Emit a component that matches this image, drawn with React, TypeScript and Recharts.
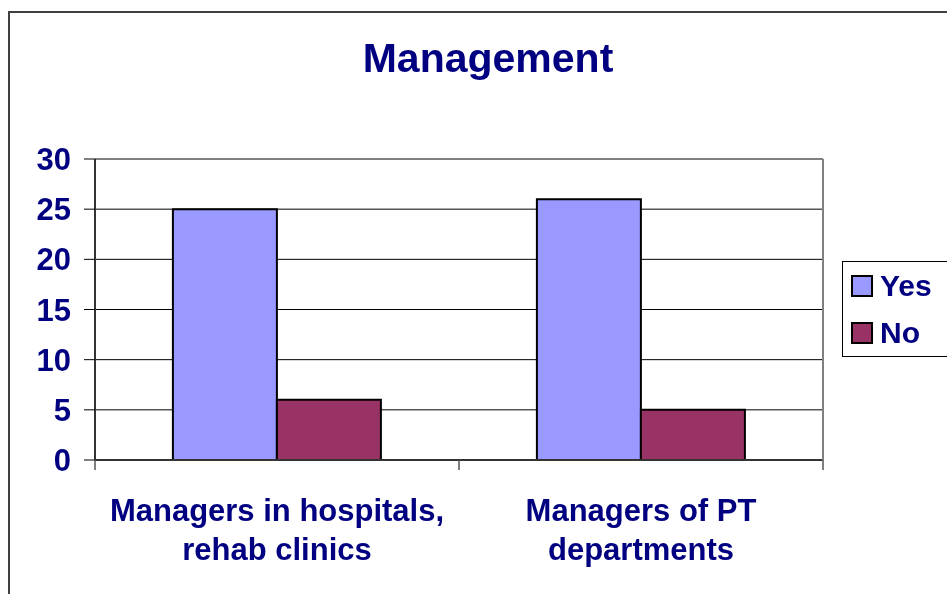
import React from 'react'
import {
  BarChart, Bar, XAxis, YAxis, CartesianGrid, ReferenceLine
} from 'recharts'

const categories = ['Managers in hospitals,\nrehab clinics', 'Managers of PT\ndepartments']
const yesValues = [25, 26]
const noValues = [6, 5]
const yTicks = [0, 5, 10, 15, 20, 25, 30]

const NAVY = '#000080'
const YES_COLOR = '#9999FF'
const NO_COLOR = '#993366'
const FONT = 'Arial, "Liberation Sans", Helvetica, sans-serif'

const data = categories.map((name, i) => ({ name, yes: yesValues[i], no: noValues[i] }))

// two-line category label plus the small tick marks on the band edges
function CategoryTick(props: any) {
  const { x, y, payload, index, width, visibleTicksCount } = props
  const lines = String(payload.value).split('\n')
  const half = width / (visibleTicksCount || categories.length) / 2
  const axisY = y - 2
  const isLast = index === (visibleTicksCount || categories.length) - 1
  return (
    <g>
      <line x1={x - half} x2={x - half} y1={axisY} y2={axisY + 10} stroke="#555" strokeWidth={1.5} />
      {isLast && (
        <line x1={x + half} x2={x + half} y1={axisY} y2={axisY + 10} stroke="#555" strokeWidth={1.5} />
      )}
      {lines.map((line, i) => (
        <text
          key={i}
          x={x}
          y={axisY + 61 + i * 39}
          textAnchor="middle"
          fill={NAVY}
          fontSize={31}
          fontWeight="bold"
          fontFamily={FONT}
        >
          {line}
        </text>
      ))}
    </g>
  )
}

const legendItems = [
  { label: 'Yes', color: YES_COLOR },
  { label: 'No', color: NO_COLOR },
]

export default function App() {
  return (
    <div style={{
      position: 'fixed', left: 8, top: 8, width: 939, height: 586, overflow: 'hidden',
    }}>
      <div style={{
        position: 'absolute', left: 0, top: 3, width: 1200, height: 1000,
        borderTop: '2px solid #404040', borderLeft: '2px solid #404040',
      }} />
      <div style={{
        position: 'absolute', left: 0, top: 30, width: 960, textAlign: 'center',
        fontFamily: FONT, fontWeight: 'bold', fontSize: 41, lineHeight: '41px', color: NAVY,
      }}>
        Management
      </div>
      <BarChart
        width={939}
        height={586}
        data={data}
        margin={{ top: 151, right: 123, bottom: 133, left: 37 }}
        barCategoryGap="21.4%"
        barGap={0}
        style={{ position: 'absolute', left: 0, top: 0 }}
      >
        <CartesianGrid vertical={false} stroke="#000" />
        <XAxis
          dataKey="name"
          height={1}
          axisLine={{ stroke: '#333', strokeWidth: 2 }}
          tickLine={false}
          tickSize={0}
          tickMargin={2}
          tick={<CategoryTick />}
          interval={0}
        />
        <YAxis
          domain={[0, 30]}
          ticks={yTicks}
          width={50}
          axisLine={{ stroke: '#333', strokeWidth: 2 }}
          tickLine={{ stroke: '#000' }}
          tickSize={11}
          tickMargin={13}
          tick={{ fill: NAVY, fontSize: 31, fontWeight: 'bold', fontFamily: FONT }}
        />
        <YAxis
          yAxisId="right"
          orientation="right"
          domain={[0, 30]}
          width={1}
          tick={false}
          tickLine={false}
          axisLine={{ stroke: '#808080', strokeWidth: 2 }}
        />
        <ReferenceLine y={30} stroke="#808080" strokeWidth={2} />
        <Bar dataKey="yes" fill={YES_COLOR} stroke="#000" strokeWidth={2} isAnimationActive={false} />
        <Bar dataKey="no" fill={NO_COLOR} stroke="#000" strokeWidth={2} isAnimationActive={false} />
      </BarChart>
      <div style={{
        position: 'absolute', left: 834, top: 253, width: 110, height: 96,
        border: '1px solid #000', background: '#fff', boxSizing: 'border-box',
        fontFamily: FONT, fontWeight: 'bold', fontSize: 30, color: NAVY,
      }}>
        {legendItems.map((item, i) => (
          <div key={item.label} style={{
            position: 'absolute', left: 8, top: 12 + i * 47, height: 24,
            display: 'flex', alignItems: 'center',
          }}>
            <span style={{
              display: 'inline-block', width: 18, height: 18, background: item.color,
              border: '2px solid #000', marginRight: 7,
            }} />
            <span style={{ lineHeight: '24px' }}>{item.label}</span>
          </div>
        ))}
      </div>
    </div>
  )
}
